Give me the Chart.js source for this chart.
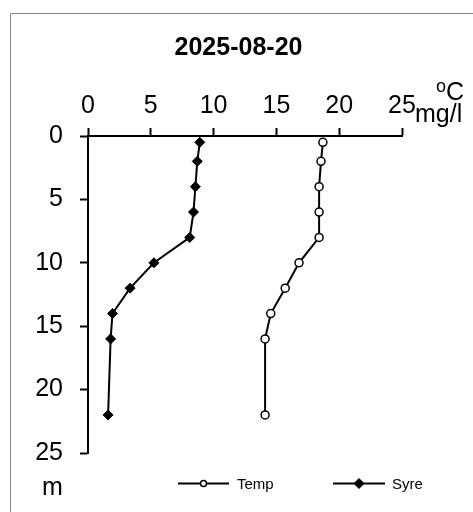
<!DOCTYPE html>
<html>
<head>
<meta charset="utf-8">
<script src="https://cdn.jsdelivr.net/npm/chart.js@4.4.1/dist/chart.umd.min.js"></script>
<style>
  html, body { margin: 0; padding: 0; background: #fff; }
  canvas { display: block; }
</style>
</head>
<body>
<canvas id="profile" width="473" height="512"></canvas>
<script>
// data (depth in m)
const depths = [0.5, 2, 4, 6, 8, 10, 12, 14, 16, 22];
const temp = [18.7, 18.55, 18.4, 18.4, 18.4, 16.8, 15.7, 14.55, 14.1, 14.1];
const syre = [8.9, 8.7, 8.55, 8.4, 8.1, 5.25, 3.35, 1.95, 1.8, 1.6];
const xTicks = [0, 5, 10, 15, 20, 25];
const yTicks = [0, 5, 10, 15, 20, 25];

const FONT = "'Liberation Sans', Arial, sans-serif";

const toPoints = (vals) => vals.map((v, i) => ({ x: v, y: depths[i] }));

// frame, title, unit labels and legend
const extras = {
  id: 'extras',
  beforeDraw(chart) {
    const c = chart.ctx;
    c.save();
    c.strokeStyle = '#888';
    c.lineWidth = 1;
    c.beginPath();
    c.moveTo(10.5, 520);
    c.lineTo(10.5, 13.5);
    c.lineTo(480, 13.5);
    c.stroke();
    c.restore();
  },
  afterDraw(chart) {
    const c = chart.ctx;
    c.save();
    c.fillStyle = '#000';
    c.textBaseline = 'alphabetic';
    c.textAlign = 'center';
    c.font = 'bold 25px ' + FONT;
    c.fillText('2025-08-20', 238.5, 55);

    c.textAlign = 'left';
    c.font = '18px ' + FONT;
    c.fillText('o', 436, 92);
    c.font = '25px ' + FONT;
    c.fillText('C', 446, 100);
    c.fillText('mg/l', 415, 122);
    c.fillText('m', 42, 495);

    // legend
    const items = [
      { ds: chart.data.datasets[0], x0: 178, x1: 229, tx: 237 },
      { ds: chart.data.datasets[1], x0: 333, x1: 385, tx: 392 }
    ];
    const ly = 483.5;
    c.font = '15px ' + FONT;
    c.textBaseline = 'middle';
    items.forEach(it => {
      c.strokeStyle = '#000';
      c.lineWidth = 2;
      c.beginPath();
      c.moveTo(it.x0, ly);
      c.lineTo(it.x1, ly);
      c.stroke();
      const mx = (it.x0 + it.x1) / 2;
      c.fillStyle = it.ds.pointBackgroundColor;
      c.strokeStyle = it.ds.pointBorderColor;
      c.lineWidth = 1.5;
      Chart.helpers.drawPoint(c, {
        pointStyle: it.ds.pointStyle,
        radius: it.ds.pointStyle === 'circle' ? 3 : 4.5,
        borderWidth: 1.5
      }, mx, ly);
      c.fillStyle = '#000';
      c.fillText(it.ds.label, it.tx, ly + 1);
    });
    c.restore();
  }
};

const ctx = document.getElementById('profile').getContext('2d');
const profileChart = new Chart(ctx, {
  type: 'scatter',
  data: {
    datasets: [{
      label: 'Temp',
      data: toPoints(temp),
      showLine: true,
      borderColor: '#000',
      borderWidth: 2,
      pointStyle: 'circle',
      pointRadius: 4,
      pointBorderWidth: 1.5,
      pointBackgroundColor: '#fff',
      pointBorderColor: '#000'
    }, {
      label: 'Syre',
      data: toPoints(syre),
      showLine: true,
      borderColor: '#000',
      borderWidth: 2,
      pointStyle: 'rectRot',
      pointRadius: 5,
      pointBorderWidth: 1,
      pointBackgroundColor: '#000',
      pointBorderColor: '#000'
    }]
  },
  options: {
    responsive: false,
    animation: false,
    devicePixelRatio: 1,
    layout: { padding: { left: 0, top: 0, right: 71, bottom: 59 } },
    plugins: {
      legend: { display: false },
      title: { display: false },
      tooltip: { enabled: false }
    },
    scales: {
      x: {
        type: 'linear',
        position: 'top',
        min: 0,
        max: 25,
        afterBuildTicks: (s) => { s.ticks = xTicks.map(v => ({ value: v })); },
        afterFit: (s) => { s.height = 136; },
        ticks: { color: '#000', font: { family: FONT, size: 25 }, padding: 7, maxRotation: 0 },
        grid: { drawOnChartArea: false, tickLength: 8, tickWidth: 2, color: '#000' },
        border: { color: '#000', width: 2 }
      },
      y: {
        type: 'linear',
        reverse: true,
        min: 0,
        max: 25,
        afterBuildTicks: (s) => { s.ticks = yTicks.map(v => ({ value: v })); },
        afterFit: (s) => { s.width = 88; },
        ticks: { color: '#000', font: { family: FONT, size: 25 }, padding: 17 },
        grid: { drawOnChartArea: false, tickLength: 8, tickWidth: 2, color: '#000' },
        border: { color: '#000', width: 2 }
      }
    }
  },
  plugins: [extras]
});
</script>
</body>
</html>
